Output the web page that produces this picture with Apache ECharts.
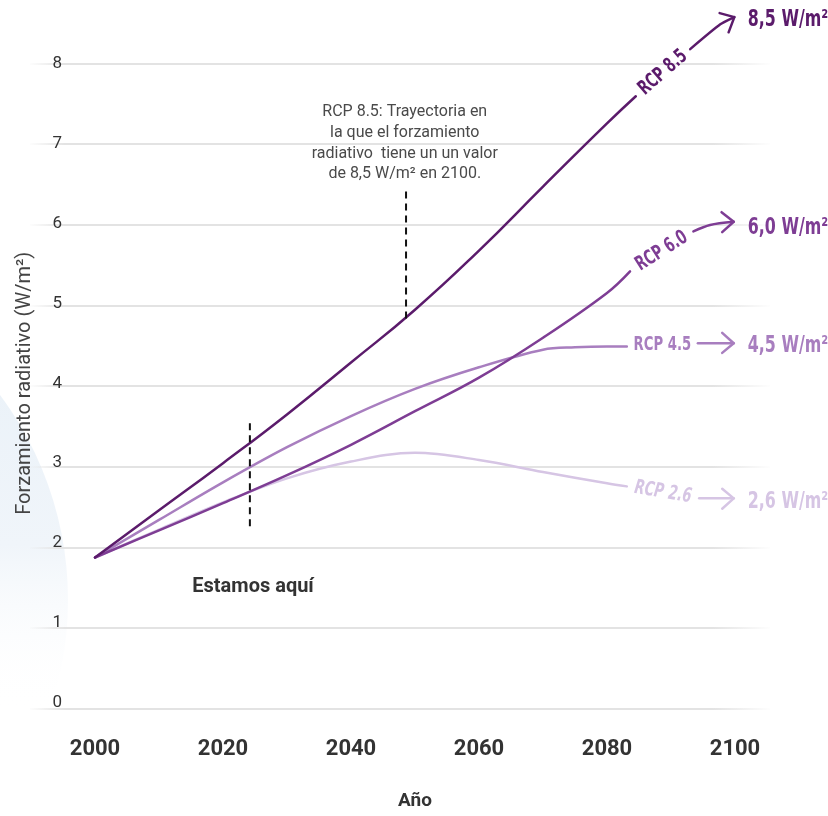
<!DOCTYPE html>
<html><head><meta charset="utf-8">
<script src="https://cdn.jsdelivr.net/npm/echarts@6/dist/echarts.min.js"></script>
<style>html,body{margin:0;padding:0;background:#fff}#c{width:828px;height:816px}</style>
</head><body><div id="c"></div>
<script>
// ---- data ----
const years85 = [2000, 2010, 2020, 2030, 2040, 2050, 2060, 2070, 2080, 2084.5];
const rcp85   = [1.82, 2.41, 3.00, 3.61, 4.26, 4.92, 5.66, 6.46, 7.25, 7.59];
const years60 = [2000, 2010, 2020, 2030, 2040, 2050, 2060, 2070, 2080, 2083.6];
const rcp60   = [1.82, 2.16, 2.50, 2.85, 3.23, 3.65, 4.07, 4.57, 5.13, 5.40];
const years45 = [2000, 2010, 2020, 2030, 2040, 2050, 2060, 2070, 2075, 2080, 2083.1];
const rcp45   = [1.82, 2.29, 2.76, 3.20, 3.59, 3.93, 4.20, 4.42, 4.45, 4.46, 4.46];
const years26 = [2000, 2010, 2020, 2030, 2040, 2050, 2060, 2070, 2080, 2083.1];
const rcp26   = [1.82, 2.17, 2.51, 2.81, 3.02, 3.13, 3.04, 2.89, 2.75, 2.71];

// arrow tails (after the scenario label) and arrow heads
const arrowYears85 = [2093.0, 2097.7, 2099.9];
const arrowVals85  = [8.18, 8.49, 8.58];
const headYears85  = [2097.6, 2099.9, 2099.0];
const headVals85   = [8.63, 8.58, 8.39];
const arrowYears60 = [2093.5, 2096.1, 2099.8];
const arrowVals60  = [5.90, 5.98, 6.02];
const headYears60  = [2097.9, 2099.8, 2098.0];
const headVals60   = [6.14, 6.02, 5.89];
const arrowYears45 = [2094.2, 2099.8];
const arrowVals45  = [4.50, 4.50];
const headYears45  = [2098.0, 2099.8, 2098.0];
const headVals45   = [4.63, 4.50, 4.38];
const arrowYears26 = [2094.4, 2099.8];
const arrowVals26  = [2.56, 2.56];
const headYears26  = [2098.0, 2099.8, 2098.0];
const headVals26   = [2.68, 2.56, 2.43];

const scenarioNames = ['RCP 8.5', 'RCP 6.0', 'RCP 4.5', 'RCP 2.6'];
const endLabels     = ['8,5 W/m²', '6,0 W/m²', '4,5 W/m²', '2,6 W/m²'];
const endLabelVals  = [8.54, 5.94, 4.47, 2.52];
const endLabelYear  = 2102;

const nowYear = 2024.2, nowRange = [2.21, 3.55];
const noteYear = 2048.6, noteRange = [4.81, 6.41];
const nowText = 'Estamos aquí';
const nowTextPos = [2024.7, 1.45];
const noteText = 'RCP 8.5: Trayectoria en\nla que el forzamiento\nradiativo  tiene un un valor\nde 8,5 W/m² en 2100.';
const noteTextPos = [2048.4, 7.0];

const xMin = 2000, xMax = 2100, xStep = 20;
const yMin = 0, yMax = 8, yStep = 1;
const xTitle = 'Año';
const yTitle = 'Forzamiento radiativo (W/m²)';

// ---- styles ----
const colors = ['#5b1b6b', '#7e3d94', '#a87ebf', '#d6c5e4'];
const zip = (xs, ys) => xs.map((x, i) => [x, ys[i]]);

const lineSeries = (data, color, z, smooth) => ({
  type: 'line', xAxisIndex: 1, yAxisIndex: 1, data, smooth: smooth, symbol: 'none',
  clip: false, z, silent: true,
  lineStyle: { color, width: 2.5, cap: 'round', join: 'round' }
});
const dashSeries = (x, range) => ({
  type: 'line', xAxisIndex: 1, yAxisIndex: 1, data: [[x, range[0]], [x, range[1]]],
  symbol: 'none', clip: false, z: 5, silent: true,
  lineStyle: { color: '#111', width: 2, type: [7, 5] }
});

const chart = echarts.init(document.getElementById('c'));
const gradLine = {
  type: 'linear', x: 0, y: 0, x2: 1, y2: 0,
  colorStops: [
    { offset: 0, color: 'rgba(226,226,226,0)' },
    { offset: 0.05, color: '#e3e3e3' },
    { offset: 0.92, color: '#e3e3e3' },
    { offset: 1, color: 'rgba(226,226,226,0)' }
  ]
};

chart.setOption({
  animation: false,
  backgroundColor: '#fff',
  grid: [
    { left: 30, right: 58, top: 63.5, bottom: 107.5 },
    { left: 95, right: 93, top: 63.5, bottom: 107.5 }
  ],
  xAxis: [
    { gridIndex: 0, type: 'value', min: 0, max: 1, show: false },
    {
      gridIndex: 1, type: 'value', min: xMin, max: xMax, interval: xStep,
      axisLine: { show: false }, axisTick: { show: false }, splitLine: { show: false },
      axisLabel: { margin: 35, fontSize: 22, fontWeight: 'bold', color: '#333', fontFamily: 'Roboto',
        formatter: v => String(v) },
      name: xTitle, nameLocation: 'middle', nameGap: 89,
      nameTextStyle: { fontSize: 19, fontWeight: 'bold', color: '#333', fontFamily: 'Roboto' }
    }
  ],
  yAxis: [
    {
      gridIndex: 0, type: 'value', min: yMin, max: yMax, interval: yStep,
      axisLine: { show: false }, axisTick: { show: false }, axisLabel: { show: false },
      splitLine: { show: true, lineStyle: { color: gradLine, width: 2 } }
    },
    {
      gridIndex: 1, type: 'value', min: yMin, max: yMax, interval: yStep,
      axisLine: { show: false }, axisTick: { show: false }, splitLine: { show: false },
      axisLabel: { margin: 33, fontSize: 17, color: '#333', fontFamily: 'Roboto' },
      name: yTitle, nameLocation: 'middle', nameGap: 60, nameRotate: 90,
      nameTextStyle: { fontSize: 20, color: '#444', fontFamily: 'Roboto' }
    }
  ],
  series: [
    lineSeries(zip(years26, rcp26), colors[3], 2, 0.35),
    lineSeries(zip(years45, rcp45), colors[2], 3, 0.35),
    lineSeries(zip(years60, rcp60), colors[1], 4, 0.4),
    lineSeries(zip(years85, rcp85), colors[0], 5, 0.5),
    lineSeries(zip(arrowYears85, arrowVals85), colors[0], 5, 0.2),
    lineSeries(zip(headYears85, headVals85), colors[0], 5, false),
    lineSeries(zip(arrowYears60, arrowVals60), colors[1], 4, 0.3),
    lineSeries(zip(headYears60, headVals60), colors[1], 4, false),
    lineSeries(zip(arrowYears45, arrowVals45), colors[2], 3, false),
    lineSeries(zip(headYears45, headVals45), colors[2], 3, false),
    lineSeries(zip(arrowYears26, arrowVals26), colors[3], 2, false),
    lineSeries(zip(headYears26, headVals26), colors[3], 2, false),
    dashSeries(nowYear, nowRange),
    dashSeries(noteYear, noteRange)
  ]
});

const px = p => chart.convertToPixel({ gridIndex: 1 }, p);
const lineEnds = [
  [years85[years85.length - 1], rcp85[rcp85.length - 1], arrowYears85[0], arrowVals85[0]],
  [years60[years60.length - 1], rcp60[rcp60.length - 1], arrowYears60[0], arrowVals60[0]],
  [years45[years45.length - 1], rcp45[rcp45.length - 1], arrowYears45[0], arrowVals45[0]],
  [years26[years26.length - 1], rcp26[rcp26.length - 1], arrowYears26[0], arrowVals26[0]]
];

const els = [];
// background blob (soft, very pale)
els.push({
  type: 'circle', shape: { cx: -275, cy: 600, r: 343 }, z: -10, silent: true,
  style: {
    fill: {
      type: 'linear', x: 0, y: 0, x2: 0, y2: 1,
      colorStops: [
        { offset: 0.1, color: 'rgba(233,241,248,1)' },
        { offset: 0.42, color: 'rgba(240,245,250,1)' },
        { offset: 0.66, color: 'rgba(255,255,255,0)' }
      ]
    }
  }
});
lineEnds.forEach((e, i) => {
  const a = px([e[0], e[1]]), b = px([e[2], e[3]]);
  const cx = (a[0] + b[0]) / 2, cy = (a[1] + b[1]) / 2;
  let rot = i === 2 ? 0 : Math.atan2(a[1] - b[1], b[0] - a[0]);
  els.push({
    type: 'text', x: cx, y: cy, rotation: rot, scaleX: 0.66, z: 20, silent: true,
    style: {
      text: scenarioNames[i], fill: colors[i], fontFamily: 'DejaVu Sans', fontWeight: 'bold',
      fontStyle: i === 3 ? 'italic' : 'normal',
      fontSize: 20, align: 'center', verticalAlign: 'middle'
    }
  });
  const p = px([endLabelYear, endLabelVals[i]]);
  els.push({
    type: 'text', x: p[0], y: p[1], scaleX: 0.69, z: 20, silent: true,
    style: {
      text: endLabels[i], fill: colors[i], fontFamily: 'DejaVu Sans', fontWeight: 'bold',
      fontSize: 23, align: 'left', verticalAlign: 'middle'
    }
  });
});
const np = px(nowTextPos);
els.push({
  type: 'text', x: np[0], y: np[1], z: 20, silent: true,
  style: { text: nowText, fill: '#333', fontFamily: 'Roboto', fontWeight: 'bold', fontSize: 20, align: 'center', verticalAlign: 'middle' }
});
const tp = px(noteTextPos);
els.push({
  type: 'text', x: tp[0], y: tp[1], z: 20, silent: true,
  style: { text: noteText, fill: '#4a4a4a', fontFamily: 'Roboto', fontSize: 16, lineHeight: 20.7, align: 'center', verticalAlign: 'middle' }
});
chart.setOption({ graphic: { elements: els } });
</script>
</body></html>
